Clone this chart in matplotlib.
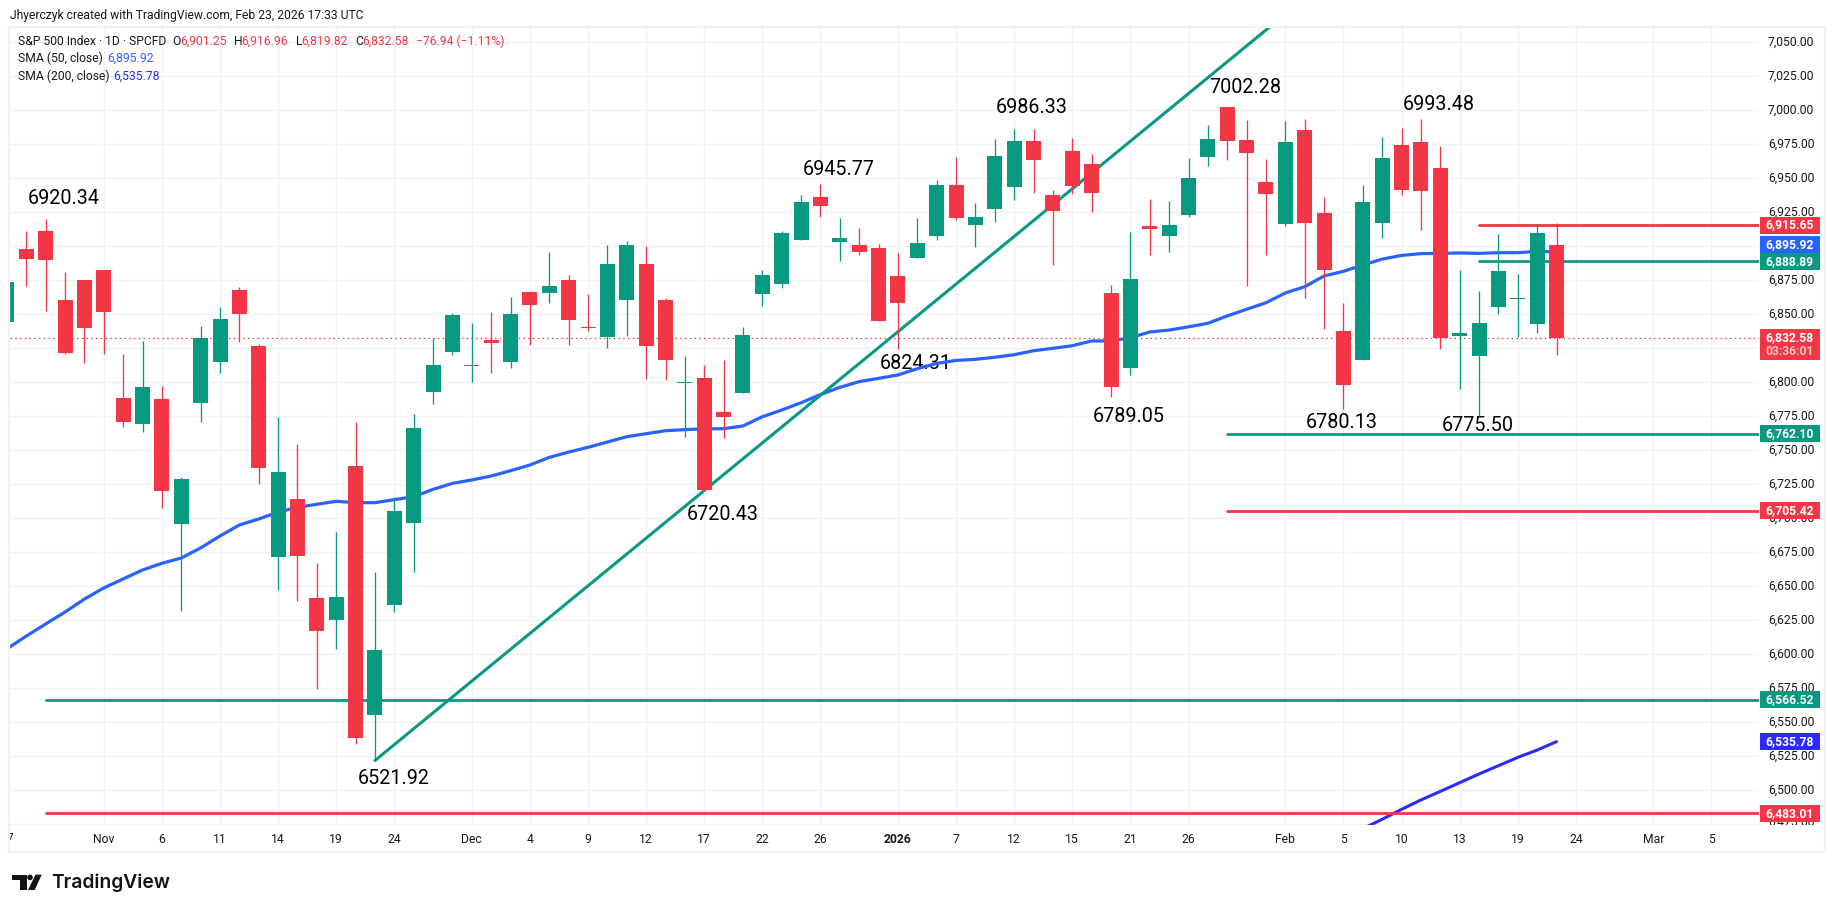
import numpy as np
import matplotlib
matplotlib.use('Agg')
from matplotlib import pyplot as plt
from matplotlib.patches import Rectangle, Polygon, Circle
from matplotlib.transforms import Bbox, ScaledTranslation, blended_transform_factory

# S&P 500 daily candles, 27 Oct 2025 to 23 Feb 2026

opens = [
    6844.1, 6898.0, 6911.2, 6860.5, 6875.2, 6882.6, 6788.4, 6769.3, 6787.7, 6695.8,
    6784.8, 6814.9, 6867.9, 6826.7, 6671.5, 6714.2, 6641.4, 6625.2, 6738.4, 6555.4,
    6636.2, 6696.5, 6792.9, 6822.3, 6812.1, 6831.1, 6814.9, 6866.4, 6865.7, 6875.2,
    6840.7, 6833.3, 6860.5, 6887.0, 6860.5, 6799.5, 6803.2, 6778.2, 6792.1, 6864.9,
    6872.3, 6904.6, 6936.2, 6903.2, 6901.0, 6898.7, 6878.2, 6891.4, 6907.6, 6945.1,
    6915.6, 6927.4, 6943.6, 6977.4, 6937.7, 6970.1, 6960.5, 6865.7, 6810.5, 6914.9,
    6907.6, 6923.0, 6965.7, 7002.2, 6978.2, 6947.3, 6916.4, 6985.5, 6924.5, 6837.7,
    6816.4, 6917.1, 6974.5, 6976.7, 6957.6, 6834.0, 6819.3, 6855.4, 6861.4, 6842.9,
    6901.25,
]
highs = [
    6880.0, 6911.2, 6920.34, 6881.1, 6875.2, 6882.6, 6820.8, 6830.4, 6797.3, 6730.3,
    6841.4, 6855.4, 6870.1, 6828.2, 6774.5, 6754.6, 6667.1, 6689.9, 6770.8, 6660.5,
    6715.7, 6776.7, 6832.6, 6851.0, 6843.6, 6851.7, 6862.7, 6866.4, 6895.8, 6878.9,
    6864.9, 6900.9, 6903.9, 6900.2, 6862.0, 6819.3, 6812.7, 6816.4, 6840.7, 6882.6,
    6911.2, 6937.7, 6945.77, 6920.8, 6913.4, 6901.7, 6895.1, 6920.8, 6948.7, 6965.7,
    6931.8, 6978.9, 6986.33, 6986.2, 6941.4, 6979.6, 6967.9, 6871.5, 6910.5, 6934.8,
    6933.3, 6964.9, 6989.2, 7002.28, 6992.9, 6964.2, 6992.1, 6993.6, 6936.2, 6858.3,
    6945.1, 6980.4, 6987.0, 6993.48, 6973.7, 6882.6, 6867.1, 6909.0, 6879.6, 6916.4,
    6916.96,
]
lows = [
    6835.0, 6870.8, 6852.7, 6820.8, 6814.2, 6820.8, 6767.1, 6763.4, 6707.6, 6631.8,
    6770.8, 6806.8, 6829.6, 6725.2, 6647.3, 6639.2, 6574.5, 6603.9, 6534.0, 6521.92,
    6631.1, 6660.5, 6784.0, 6820.1, 6800.2, 6806.8, 6810.5, 6827.4, 6858.3, 6827.4,
    6837.7, 6825.2, 6834.0, 6802.4, 6801.7, 6759.8, 6720.43, 6759.0, 6792.1, 6856.1,
    6869.3, 6904.6, 6921.5, 6889.2, 6893.6, 6845.1, 6824.31, 6891.4, 6904.6, 6919.3,
    6899.5, 6917.9, 6934.1, 6939.2, 6886.2, 6938.5, 6925.2, 6789.05, 6805.4, 6893.6,
    6895.8, 6921.5, 6959.0, 6963.5, 6870.8, 6893.6, 6914.9, 6862.0, 6839.2, 6780.13,
    6816.4, 6906.1, 6937.7, 6912.0, 6824.5, 6795.1, 6775.50, 6850.2, 6833.3, 6836.2,
    6819.82,
]
closes = [
    6874.0, 6890.7, 6889.9, 6821.5, 6839.9, 6851.7, 6770.8, 6796.5, 6720.1, 6728.9,
    6832.6, 6846.5, 6850.2, 6737.0, 6734.1, 6672.3, 6617.1, 6642.1, 6538.5, 6603.2,
    6705.4, 6766.4, 6812.7, 6849.5, 6812.8, 6828.9, 6850.2, 6856.8, 6870.8, 6845.8,
    6840.0, 6887.0, 6900.9, 6826.7, 6816.4, 6800.2, 6720.8, 6774.5, 6834.8, 6878.9,
    6909.8, 6932.6, 6929.6, 6906.1, 6895.8, 6845.1, 6858.3, 6902.4, 6945.1, 6920.8,
    6921.5, 6966.4, 6977.4, 6963.5, 6926.0, 6944.3, 6939.2, 6796.5, 6875.9, 6912.7,
    6915.6, 6950.2, 6978.9, 6977.4, 6968.6, 6938.5, 6976.7, 6917.1, 6882.6, 6798.0,
    6932.6, 6964.9, 6941.4, 6940.6, 6832.6, 6836.2, 6843.6, 6881.8, 6862.1, 6909.8,
    6832.58,
]

sma50 = [
    6604.0, 6613.4, 6622.3, 6631.1, 6640.6, 6648.8, 6655.4, 6662.0, 6666.9, 6670.8,
    6678.2, 6687.0, 6695.1, 6699.5, 6704.6, 6708.1, 6710.3, 6712.5, 6711.5, 6711.5,
    6713.7, 6715.9, 6721.3, 6725.7, 6728.2, 6731.1, 6735.0, 6739.2, 6744.8, 6748.7,
    6752.2, 6756.1, 6760.0, 6762.2, 6764.4, 6765.2, 6765.7, 6765.9, 6767.9, 6774.7,
    6779.6, 6785.0, 6791.0, 6796.3, 6800.5, 6802.9, 6805.4, 6810.0, 6813.9, 6816.1,
    6816.9, 6818.4, 6820.3, 6823.2, 6825.0, 6826.9, 6830.4, 6830.4, 6832.8, 6837.0,
    6838.4, 6840.8, 6843.4, 6848.8, 6853.7, 6858.5, 6865.7, 6870.3, 6878.2, 6881.6,
    6886.2, 6890.6, 6893.3, 6894.6, 6894.8, 6895.1, 6894.8, 6895.3, 6895.3, 6896.3,
    6895.92,
]
sma200_start = 70
sma200 = [6471.8, 6478.7, 6486.0, 6492.9, 6499.2, 6505.6, 6512.0, 6518.1, 6524.2, 6529.6, 6535.78]

# trend line through the two lows
trend_x = [19, 36, 66]
trend_y = [6521.92, 6720.43, 7070.7]

# horizontal levels: price, colour, first bar
levels = [
    (6915.65, 'red', 76), (6888.89, 'green', 76),
    (6762.10, 'green', 63), (6705.42, 'red', 63),
    (6566.52, 'green', 2), (6483.01, 'red', 2),
]

tick_pos = [5, 8, 11, 14, 17, 20, 24, 27, 30, 33, 36, 39, 42, 46, 49, 52, 55, 58, 61, 66, 69, 72, 75, 78, 81, 85, 88]
tick_txt = ['Nov', '6', '11', '14', '19', '24', 'Dec', '4', '9', '12', '17', '22', '26', '2026',
            '7', '12', '15', '21', '26', 'Feb', '5', '10', '13', '19', '24', 'Mar', '5']

GREEN = '#089981'
RED = '#F23645'
BLUE = '#2962FF'
BLUE2 = '#2B2BFF'
INK = '#131722'
GRID = '#F1F2F4'
COL = {'green': GREEN, 'red': RED}
FONT = 'Roboto'
SMALL = 8.7

plt.rcParams['font.family'] = FONT

fig = plt.figure(figsize=(18.35, 9.13), dpi=100)
W, H = 1835.0, 913.0
left, right, top, bottom = 10.0, 1759.0, 27.0, 824.5
ax = fig.add_axes([left / W, 1 - bottom / H, (right - left) / W, (bottom - top) / H])

bar_px = 19.37
x0_px = 6.93
ax.set_xlim((left - x0_px) / bar_px, (right - x0_px) / bar_px)
ax.set_ylim(7050 - (bottom - 42.3) / 1.36, 7050 + (42.3 - top) / 1.36)

# page layer in pixels for frame, header and logo
page = fig.add_axes([0, 0, 1, 1], zorder=5)
page.set_xlim(0, W)
page.set_ylim(H, 0)
page.axis('off')

for s in ax.spines.values():
    s.set_visible(False)
ax.set_axisbelow(True)

ax.yaxis.tick_right()
yt = np.arange(6500, 7051, 25)
ax.set_yticks(yt)
ax.set_yticklabels([f'{v:,.2f}' for v in yt])
ax.set_xticks(tick_pos)
ax.set_xticklabels(tick_txt)
ax.tick_params(axis='y', length=0, pad=6.4, labelsize=SMALL, labelcolor=INK)
ax.tick_params(axis='x', length=0, pad=6.2, labelsize=SMALL, labelcolor=INK)
# scale labels sit a little above their grid lines
nudge = ScaledTranslation(0, 1.6 / 100, fig.dpi_scale_trans)
for lab in ax.get_yticklabels():
    lab.set_transform(lab.get_transform() + nudge)
for lab in ax.get_xticklabels():
    if lab.get_text() == '2026':
        lab.set_fontweight('bold')
ax.grid(True, color=GRID, lw=1.0)
ax.axhline(6475, color=GRID, lw=1.0, zorder=0)

# two labels sit half outside the pane and get cut off
y_tr = blended_transform_factory(ax.transAxes, ax.transData)
x_tr = blended_transform_factory(ax.transData, page.transData)
t = ax.text((1768 - left) / (right - left), 6475, '6,475.00', transform=y_tr + nudge, fontsize=SMALL,
            color=INK, va='center', ha='left', clip_on=True)
t.set_clip_box(Bbox([[1760, H - 825], [1825, H - 810]]))
t = ax.text(0, 838.6, '27', transform=x_tr, fontsize=SMALL, color=INK, va='center', ha='center', clip_on=True)
t.set_clip_box(Bbox([[10, H - 850], [40, H - 825]]))

# price annotations
notes = [
    ('6920.34', 64, 198.8), ('6521.92', 394, 778.5), ('6720.43', 722.7, 514.8),
    ('6945.77', 838.7, 169.8), ('6824.31', 915.3, 363.8), ('6986.33', 1032, 107.5),
    ('6789.05', 1129, 416.5), ('7002.28', 1245, 87.5), ('6993.48', 1439, 104.8),
    ('6780.13', 1342, 422.2), ('6775.50', 1478, 425.5),
]
for txt, px, py in notes:
    ax.text(px, py, txt, transform=page.transData, fontsize=14.2, color='black',
            ha='center', va='center', zorder=2)

# moving averages, trend line, levels
x = np.arange(len(closes))
ax.plot(x[:len(sma50)], sma50, color=BLUE, lw=2.3, zorder=3, solid_joinstyle='round')
ax.plot(np.arange(sma200_start, sma200_start + len(sma200)), sma200, color=BLUE2, lw=2.2, zorder=3,
        solid_capstyle='round')
ax.plot(trend_x, trend_y, color=GREEN, lw=2.2, zorder=3, solid_capstyle='round')
for price, col, start in levels:
    ax.plot([start, ax.get_xlim()[1]], [price, price], color=COL[col], lw=2.0, zorder=3,
            solid_capstyle='round')
ax.axhline(closes[-1], color=RED, lw=0.9, ls=(0, (1.2, 2.6)), zorder=3)

# candles
up = np.array(closes) >= np.array(opens)
colors = [GREEN if u else RED for u in up]
ax.vlines(x, lows, highs, colors=colors, lw=0.95, zorder=4)
ax.bar(x, np.abs(np.array(closes) - np.array(opens)), bottom=np.minimum(opens, closes),
       width=15 / bar_px, color=colors, linewidth=0, zorder=4)

# price tags on the scale


def tag(price, label, color, height=17, centre=None, sub=None):
    if centre is None:
        centre = price
    h = height / 1.36
    xa = (1760 - left) / (right - left)
    ax.add_patch(Rectangle((xa, centre - h / 2), 60 / (right - left), h, transform=y_tr,
                           facecolor=color, edgecolor='none', clip_on=False, zorder=10))
    xm = (1789.5 - left) / (right - left)
    if sub is None:
        ax.text(xm, centre, label, transform=y_tr, fontsize=SMALL, color='white', fontweight='bold',
                ha='center', va='center', zorder=11)
    else:
        ax.text(xm, price + 0.3, label, transform=y_tr, fontsize=SMALL, color='white', fontweight='bold',
                ha='center', va='center', zorder=11)
        ax.text(xm, price - 10, sub, transform=y_tr, fontsize=SMALL, color='#FBC4C9', fontweight='bold',
                ha='center', va='center', zorder=11)


tag(6915.65, '6,915.65', RED)
tag(6888.89, '6,888.89', GREEN)
tag(6895.92, '6,895.92', BLUE, centre=6901.0)
tag(closes[-1], '6,832.58', RED, height=31, centre=6827.5, sub='03:36:01')
tag(6762.10, '6,762.10', GREEN)
tag(6705.42, '6,705.42', RED)
tag(6566.52, '6,566.52', GREEN)
tag(sma200[-1], '6,535.78', BLUE2)
tag(6483.01, '6,483.01', RED)

# frame around the chart
page.add_patch(Rectangle((9, 27), 1816, 825.5, fill=False, edgecolor='#F1F2F4', lw=1.6))

page.text(9.9, 15, 'Jhyerczyk created with TradingView.com, Feb 23, 2026 17:33 UTC', fontsize=SMALL,
          color=INK, va='center', ha='left')

header = [
    ('S&P 500 Index · 1D · SPCFD', 18.2, INK), ('O', 172.4, INK), ('6,901.25', 180.3, RED),
    ('H', 233.7, INK), ('6,916.96', 241.6, RED), ('L', 295.8, INK), ('6,819.82', 301.7, RED),
    ('C', 355, INK), ('6,832.58', 362.6, RED), ('−76.94 (−1.11%)', 416.4, RED),
]
for txt, px, col in header:
    page.text(px, 41.7, txt, fontsize=SMALL, color=col, va='center', ha='left')
page.text(18.2, 58.7, 'SMA (50, close)', fontsize=SMALL, color=INK, va='center', ha='left')
page.text(107, 58.7, '6,895.92', fontsize=SMALL, color=BLUE, va='center', ha='left')
page.text(18.2, 76, 'SMA (200, close)', fontsize=SMALL, color=INK, va='center', ha='left')
page.text(113.5, 76, '6,535.78', fontsize=SMALL, color=BLUE2, va='center', ha='left')

# logo
page.add_patch(Polygon([(12, 874.7), (26.7, 874.7), (26.7, 890), (20, 890), (20, 880), (12, 880)],
                       facecolor='#131313', edgecolor='none'))
page.add_patch(Circle((30, 877.4), 2.8, facecolor='#131313', edgecolor='none'))
page.add_patch(Polygon([(35.5, 874.7), (41.7, 874.7), (34.7, 890), (28, 890)],
                       facecolor='#131313', edgecolor='none'))
page.text(51.2, 883, 'TradingView', fontsize=13.9, fontfamily='Inter', fontweight='semibold',
          color='#131313', va='center', ha='left')

fig.savefig('out.png', dpi=100)
